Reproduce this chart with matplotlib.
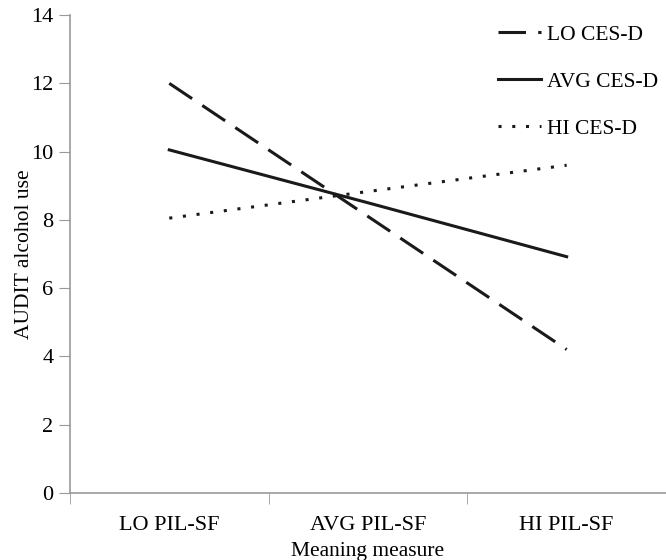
import matplotlib.pyplot as plt

categories = ['LO PIL-SF', 'AVG PIL-SF', 'HI PIL-SF']
lo_cesd = [12.0, 8.1, 4.2]
avg_cesd = [10.05, 8.5, 6.92]
hi_cesd = [8.05, 8.83, 9.6]
yticks = [0, 2, 4, 6, 8, 10, 12, 14]

plt.rcParams['font.family'] = ['Liberation Serif', 'DejaVu Serif']
plt.rcParams['font.size'] = 15.5

fig = plt.figure(figsize=(6.66, 5.6), dpi=100)
ax = fig.add_axes([0.105, 0.12, 0.895, 0.853])

x = list(range(len(categories)))
ink = '#1a1a1a'
ax.plot(x, lo_cesd, color=ink, lw=2.2, dashes=(9, 4), dash_capstyle='butt', label='LO CES-D')
ax.plot(x, avg_cesd, color=ink, lw=2.2, label='AVG CES-D')
ax.plot(x, hi_cesd, color=ink, lw=2.2, dashes=(1, 3.5), dash_capstyle='butt', label='HI CES-D')

ax.set_xlim(-0.5, 2.46)
ax.set_ylim(0, 14)
ax.set_yticks(yticks)
ax.set_xticks(x)
ax.set_xticklabels(categories, fontsize=16)
ax.set_xticks([-0.5, 0.5, 1.5, 2.5], minor=True)
ax.tick_params(axis='x', which='major', length=0, pad=17)
ax.tick_params(axis='x', which='minor', length=8, color='#999999')
ax.tick_params(axis='y', length=8, color='#999999', pad=4, labelsize=16)

for s in ['top', 'right']:
    ax.spines[s].set_visible(False)
for s in ['left', 'bottom']:
    ax.spines[s].set_color('#999999')
    ax.spines[s].set_linewidth(1.2)

ax.set_xlabel('Meaning measure', labelpad=5)
ax.set_ylabel('AUDIT alcohol use', labelpad=-2)

ax.legend(loc='upper left', bbox_to_anchor=(0.685, 1.02), frameon=False,
          labelspacing=1.25, handlelength=2.0, handletextpad=0.3)

fig.savefig('out.png', dpi=100)
